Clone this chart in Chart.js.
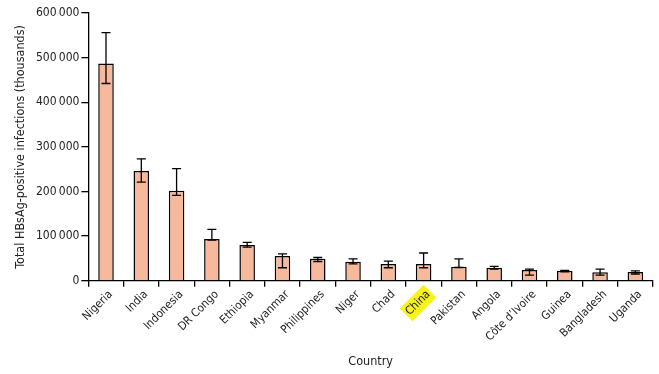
<!DOCTYPE html>
<html lang="en">
<head>
    <meta charset="UTF-8">
    <title>HBsAg-positive infections by country</title>
    <script src="https://cdn.jsdelivr.net/npm/chart.js@4.4.0/dist/chart.umd.min.js"></script>
    <style>
        body { margin: 0; background: #fff; }
        #wrap { width: 659px; height: 374px; }
    </style>
</head>
<body>
    <div id="wrap"><canvas id="hbvChart" width="659" height="374"></canvas></div>

    <script>
        // data (thousands)
        var countries = ['Nigeria', 'India', 'Indonesia', 'DR Congo', 'Ethiopia', 'Myanmar', 'Philippines', 'Niger',
            'Chad', 'China', 'Pakistan', 'Angola', 'Côte d\u2019Ivoire', 'Guinea', 'Bangladesh', 'Uganda'];
        var infections = [487000, 246000, 201500, 93500, 80000, 55500, 49000, 42500, 37500, 37500, 31000, 29000, 24000, 22000, 19000, 19500];
        var lowerCI = [442000, 221000, 191000, 91000, 75000, 29000, 43000, 37500, 29000, 29000, 29500, 26000, 12500, 20000, 12500, 15000];
        var upperCI = [556000, 273000, 251000, 115000, 86000, 60000, 52000, 49000, 44000, 62000, 49000, 32000, 26000, 23000, 26000, 22000];
        var yTicks = [0, 100000, 200000, 300000, 400000, 500000, 600000];
        var highlighted = 'China';

        var fontFamily = '"DejaVu Sans Condensed", "DejaVu Sans", sans-serif';

        // error bars drawn with the chart's own scales
        var errorBars = {
            id: 'errorBars',
            afterDatasetsDraw: function(chart) {
                var ctx = chart.ctx;
                var meta = chart.getDatasetMeta(0);
                var yScale = chart.scales.y;
                ctx.save();
                ctx.strokeStyle = '#000';
                ctx.lineWidth = 1.3;
                meta.data.forEach(function(bar, i) {
                    var x = bar.x;
                    var yLo = yScale.getPixelForValue(lowerCI[i]);
                    var yHi = yScale.getPixelForValue(upperCI[i]);
                    ctx.beginPath();
                    ctx.moveTo(x, yLo);
                    ctx.lineTo(x, yHi);
                    ctx.moveTo(x - 4.5, yHi);
                    ctx.lineTo(x + 4.5, yHi);
                    ctx.moveTo(x - 4.5, yLo);
                    ctx.lineTo(x + 4.5, yLo);
                    ctx.stroke();
                });
                ctx.restore();
            }
        };

        var ctx = document.getElementById('hbvChart').getContext('2d');
        var chart = new Chart(ctx, {
            type: 'bar',
            data: {
                labels: countries,
                datasets: [{
                    data: infections,
                    backgroundColor: '#f6b99c',
                    borderColor: '#000',
                    borderWidth: 1.5,
                    barPercentage: 0.44,
                    categoryPercentage: 1
                }]
            },
            options: {
                responsive: false,
                animation: false,
                layout: { padding: { left: 9, right: 6, top: 13, bottom: 1 } },
                plugins: {
                    legend: { display: false },
                    tooltip: { enabled: false }
                },
                scales: {
                    x: {
                        grid: { offset: true, drawOnChartArea: false, tickLength: 6, color: '#000', lineWidth: 1.3 },
                        border: { color: '#000', width: 1.3 },
                        ticks: {
                            color: '#222',
                            font: { family: fontFamily, size: 11.5 },
                            minRotation: 45,
                            maxRotation: 45,
                            autoSkip: false,
                            padding: 1,
                            showLabelBackdrop: true,
                            backdropPadding: 2,
                            backdropColor: function(c) {
                                return countries[c.index] === highlighted ? '#f7f21a' : 'rgba(0,0,0,0)';
                            }
                        },
                        title: {
                            display: true,
                            text: 'Country',
                            color: '#222',
                            font: { family: fontFamily, size: 12.5 },
                            padding: { top: 9, bottom: 4 }
                        }
                    },
                    y: {
                        min: 0,
                        max: 600000,
                        afterBuildTicks: function(axis) {
                            axis.ticks = yTicks.map(function(v) { return { value: v }; });
                        },
                        grid: { drawOnChartArea: false, tickLength: 7, color: '#000', lineWidth: 1.3 },
                        border: { color: '#000', width: 1.3 },
                        ticks: {
                            color: '#222',
                            font: { family: fontFamily, size: 12 },
                            padding: 2,
                            callback: function(v) {
                                if (v === 0) return '0';
                                var s = String(v);
                                return s.slice(0, s.length - 3) + '\u2009' + s.slice(-3);
                            }
                        },
                        title: {
                            display: true,
                            text: 'Total HBsAg-positive infections (thousands)',
                            color: '#222',
                            font: { family: fontFamily, size: 12.5 },
                            padding: { bottom: 6 }
                        }
                    }
                }
            },
            plugins: [errorBars]
        });
    </script>
</body>
</html>
